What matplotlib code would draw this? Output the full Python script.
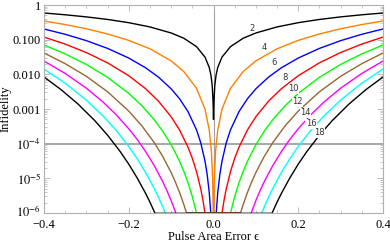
# Infidelidade vs erro de area do pulso (sequencias compostas N = 2..18)

import numpy as np
import matplotlib
matplotlib.use('Agg')
import matplotlib.pyplot as plt
import matplotlib.transforms as mtransforms
from matplotlib.ticker import FixedLocator, FixedFormatter, LogLocator, NullFormatter

plt.rcParams['font.family'] = ['Liberation Serif', 'DejaVu Serif']
plt.rcParams['mathtext.fontset'] = 'stix'

# lado positivo de cada curva (a figura e simetrica em epsilon)
eps_n2 = [0.0, 0.001, 0.003, 0.006, 0.01, 0.02, 0.04, 0.07, 0.10, 0.15, 0.20, 0.25, 0.30, 0.35, 0.40]
inf_n2 = [5e-4, 1.57e-3, 4.71e-3, 9.42e-3, 0.0157, 0.0314, 0.0628, 0.110, 0.156, 0.233, 0.309, 0.383, 0.454, 0.522, 0.588]

eps_n4 = [0.0006, 0.002, 0.005, 0.01, 0.02, 0.04, 0.07, 0.10, 0.15, 0.20, 0.25, 0.30, 0.35, 0.40]
inf_n4 = [8.9e-7, 9.87e-6, 6.17e-5, 2.47e-4, 9.87e-4, 3.94e-3, 0.0120, 0.0245, 0.0545, 0.0955, 0.146, 0.206, 0.273, 0.345]

eps_n6 = [0.006, 0.01, 0.015, 0.02, 0.03, 0.04, 0.06, 0.08, 0.10, 0.13, 0.16, 0.20, 0.25, 0.30, 0.35, 0.40]
inf_n6 = [8.4e-7, 3.87e-6, 1.31e-5, 3.10e-5, 1.05e-4, 2.48e-4, 8.33e-4, 1.97e-3, 3.83e-3, 8.34e-3, 0.0154, 0.0295, 0.0560, 0.0936, 0.143, 0.203]

eps_n8 = [0.02, 0.025, 0.03, 0.04, 0.05, 0.06, 0.08, 0.10, 0.13, 0.16, 0.20, 0.25, 0.30, 0.35, 0.40]
inf_n8 = [9.7e-7, 2.38e-6, 4.92e-6, 1.55e-5, 3.79e-5, 7.84e-5, 2.47e-4, 5.99e-4, 1.69e-3, 3.83e-3, 9.12e-3, 0.0215, 0.0425, 0.0745, 0.119]

eps_n10 = [0.04, 0.05, 0.06, 0.07, 0.08, 0.10, 0.12, 0.14, 0.17, 0.20, 0.25, 0.30, 0.35, 0.40]
inf_n10 = [9.8e-7, 2.97e-6, 7.38e-6, 1.59e-5, 3.09e-5, 9.37e-5, 2.31e-4, 4.94e-4, 1.28e-3, 2.82e-3, 8.21e-3, 0.0193, 0.0389, 0.0702]

eps_n12 = [0.064, 0.07, 0.08, 0.09, 0.10, 0.12, 0.14, 0.17, 0.20, 0.25, 0.30, 0.35, 0.40]
inf_n12 = [1.02e-6, 1.75e-6, 3.88e-6, 7.83e-6, 1.47e-5, 4.33e-5, 1.08e-4, 3.38e-4, 8.71e-4, 3.14e-3, 8.76e-3, 0.0203, 0.0412]

eps_n14 = [0.088, 0.10, 0.11, 0.12, 0.14, 0.16, 0.18, 0.20, 0.23, 0.26, 0.30, 0.35, 0.40]
inf_n14 = [9.4e-7, 2.29e-6, 4.44e-6, 8.11e-6, 2.35e-5, 5.88e-5, 1.32e-4, 2.69e-4, 6.89e-4, 1.56e-3, 3.98e-3, 0.0106, 0.0242]

eps_n16 = [0.113, 0.12, 0.13, 0.14, 0.16, 0.18, 0.20, 0.23, 0.26, 0.30, 0.35, 0.40]
inf_n16 = [9.4e-7, 1.52e-6, 2.86e-6, 5.13e-6, 1.46e-5, 3.67e-5, 8.32e-5, 2.44e-4, 6.19e-4, 1.80e-3, 5.56e-3, 0.0142]

eps_n18 = [0.138, 0.15, 0.16, 0.18, 0.20, 0.22, 0.25, 0.28, 0.32, 0.36, 0.40]
inf_n18 = [9.8e-7, 2.06e-6, 3.64e-6, 1.02e-5, 2.57e-5, 5.87e-5, 1.76e-4, 4.60e-4, 1.40e-3, 3.64e-3, 8.38e-3]

# rotulos das curvas
lab_text = ['2', '4', '6', '8', '10', '12', '14', '16', '18']
lab_x = [0.090, 0.119, 0.143, 0.169, 0.188, 0.199, 0.216, 0.230, 0.249]
lab_y = [0.213, 0.0577, 0.0213, 7.9e-3, 3.8e-3, 1.6e-3, 7.7e-4, 3.7e-4, 2.05e-4]

curves = [(eps_n2, inf_n2, 'black'),
          (eps_n4, inf_n4, '#ff8000'),
          (eps_n6, inf_n6, '#0000ff'),
          (eps_n8, inf_n8, '#ff0000'),
          (eps_n10, inf_n10, '#00ff00'),
          (eps_n12, inf_n12, '#996633'),
          (eps_n14, inf_n14, '#ff00ff'),
          (eps_n16, inf_n16, '#00ffff'),
          (eps_n18, inf_n18, 'black')]

fig = plt.figure(figsize=(3.9, 2.44), dpi=100)
ax = fig.add_axes([44/390, 1-213/244, (383-44)/390, (213-5)/244])

ax.axvline(0, color='#a0a0a0', lw=0.8, zorder=1)
ax.axhline(1e-4, color='#909090', lw=1.1, zorder=1)

for e, v, c in curves:
    e = np.array(e)
    v = np.array(v)
    x = np.concatenate([-e[::-1], e])
    y = np.concatenate([v[::-1], v])
    ax.plot(x, y, color=c, lw=1.0, zorder=2)

for t, lx, ly in zip(lab_text, lab_x, lab_y):
    ax.text(lx, ly, t, fontsize=6, family='DejaVu Sans', color='#333333', ha='center', va='center',
            bbox=dict(facecolor='white', edgecolor='none', pad=0.2), zorder=3)

ax.set_yscale('log')
ax.set_xlim(-0.4, 0.4)
ax.set_ylim(1e-6, 1)

ax.xaxis.set_major_locator(FixedLocator([-0.4, -0.2, 0.0, 0.2, 0.4]))
ax.xaxis.set_major_formatter(FixedFormatter(['\u22120.4', '\u22120.2', '0.0', '0.2', '0.4']))
ax.xaxis.set_minor_locator(FixedLocator(np.arange(-0.4, 0.41, 0.05)))
ax.yaxis.set_major_locator(FixedLocator([1e-6, 1e-5, 1e-4, 1e-3, 1e-2, 1e-1, 1]))
ax.yaxis.set_major_formatter(FixedFormatter([r'$10^{-6}$', r'$10^{-5}$', r'$10^{-4}$', '0.001', '0.010', '0.100', '1']))
ax.yaxis.set_minor_locator(LogLocator(base=10, subs=np.arange(2, 10), numticks=20))
ax.yaxis.set_minor_formatter(NullFormatter())

ax.tick_params(which='both', direction='in', top=True, right=True, color='#b0b0b0', labelsize=9, pad=2)
ax.tick_params(axis='x', which='major', pad=4)
ax.tick_params(which='major', length=4, width=0.6)
ax.tick_params(which='minor', length=2, width=0.5)
for s in ax.spines.values():
    s.set_color('#b0b0b0')
    s.set_linewidth(0.8)

# sobe um pouco o rotulo 10^-6 para nao encostar no -0.4
fig.canvas.draw()
ylabs = ax.get_yticklabels()
ylabs[0].set_transform(ylabs[0].get_transform() + mtransforms.ScaledTranslation(0, 2/100, fig.dpi_scale_trans))

ax.set_xlabel('Pulse Area Error \u03f5', fontsize=9, labelpad=0.5)
ax.set_ylabel('Infidelity', fontsize=9, labelpad=1)

fig.savefig('out.png', dpi=100)
